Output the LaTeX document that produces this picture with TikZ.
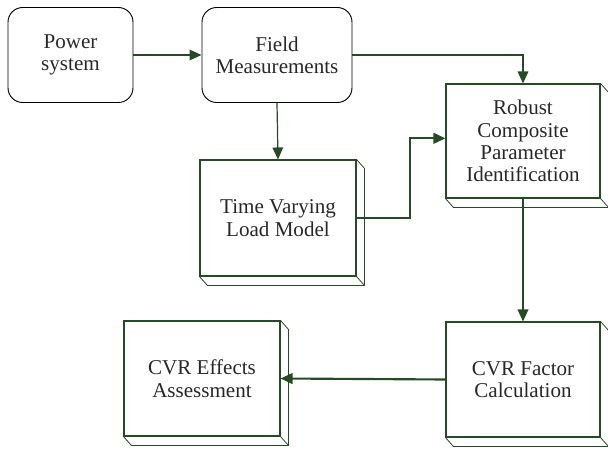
\documentclass[tikz,border=0pt]{standalone}
\usepackage{fontspec}
\setmainfont{Liberation Serif}
\usetikzlibrary{arrows.meta}
\definecolor{lgreen}{RGB}{38,74,38}
\definecolor{txt}{RGB}{40,40,40}
\begin{document}
\begin{tikzpicture}[x=0.75pt,y=-0.75pt,
  font=\fontsize{15.8}{16.8}\selectfont,
  txtstyle/.style={text=txt,align=center,inner sep=0pt},
  roundbox/.style={txtstyle,draw=black,line width=0.7pt,rounded corners=11pt},
  flatbox/.style={txtstyle,draw=lgreen,line width=0.8pt,fill=white},
  depthline/.style={draw=lgreen,line width=0.6pt},
  conn/.style={draw=lgreen,line width=0.9pt,-{Triangle[length=9pt,width=8pt]}},
  boldconn/.style={conn,line width=1.6pt}]
\useasboundingbox (0,0) rectangle (608,449);
\node[roundbox,minimum width=93.75pt,minimum height=71.25pt] (P) at (70.5,55) {Power\\system};
\node[roundbox,minimum width=112.5pt,minimum height=71.25pt] (M) at (277,55) {Field\\Measurements};
\node[flatbox,minimum width=117pt,minimum height=87pt] (T) at (278,218) {Time Varying\\Load Model};
\node[flatbox,minimum width=115.5pt,minimum height=85.5pt] (R) at (523,141) {Robust\\Composite\\Parameter\\Identification};
\node[flatbox,minimum width=115.5pt,minimum height=86.25pt] (F) at (523,379.5) {CVR Factor\\Calculation};
\node[flatbox,minimum width=117pt,minimum height=86.25pt] (E) at (202,378.5) {CVR Effects\\Assessment};
\foreach \n in {T,R,F,E}{
  \draw[depthline] (\n.north east) -- ++(8,9) -- ([shift={(8,9)}]\n.south east) -- ([shift={(8,9)}]\n.south west) -- (\n.south west);
  \draw[depthline] (\n.south east) -- ++(8,9);
}
\coordinate (bend) at (410,218);
\draw[conn] (P.east) -- (M.west);
\draw[conn] (M.south) -- (T.north);
\draw[conn] (M.east) -| (R.north);
\draw[boldconn] (T.east) -- (bend) |- ([yshift=2]R.west);
\draw[conn,line width=1.1pt] (R.south) -- (F.north);
\draw[boldconn] (F.west) -- (E.east);
\end{tikzpicture}
\end{document}
